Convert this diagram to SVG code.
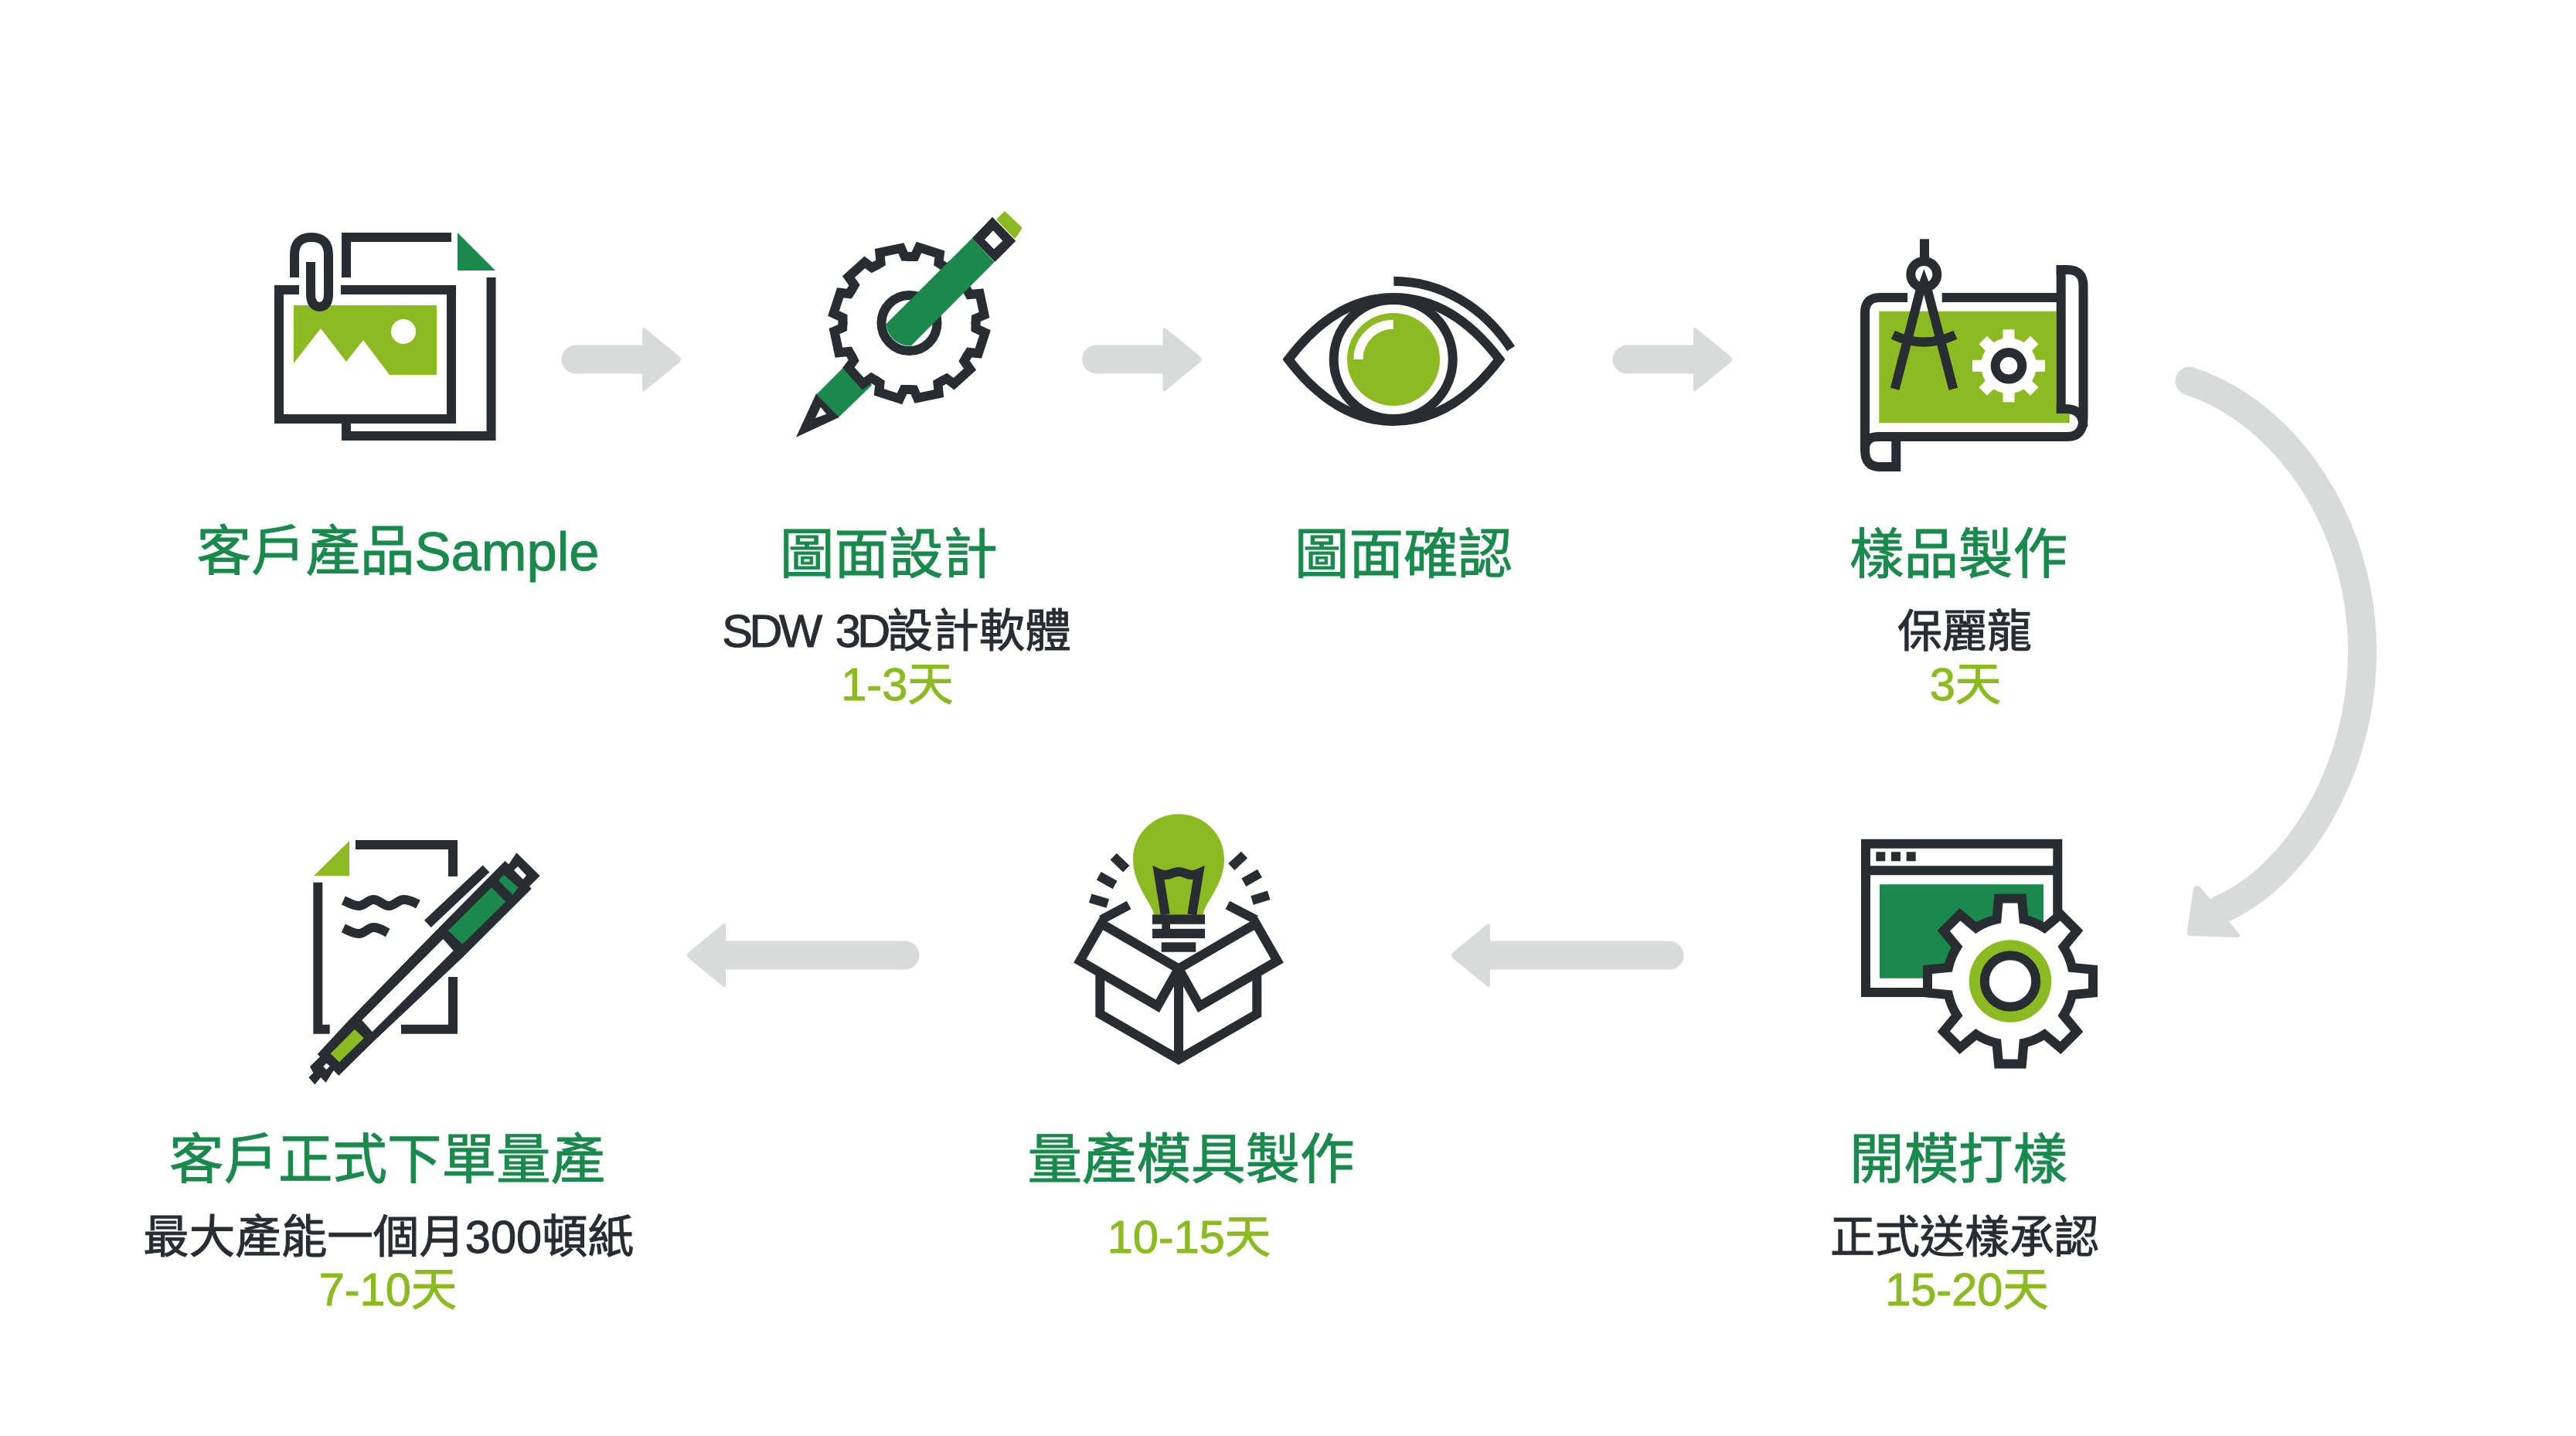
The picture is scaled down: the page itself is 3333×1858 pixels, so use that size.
<svg xmlns="http://www.w3.org/2000/svg" xmlns:xlink="http://www.w3.org/1999/xlink" width="3333" height="1858" viewBox="0 0 3333 1858">
<style>
text{font-family:"Liberation Sans","Noto Sans CJK TC",sans-serif;text-anchor:middle;stroke-width:1}
.h{font-size:70.5px;fill:#198a4c;stroke:#198a4c}
.s{font-size:59.5px;fill:#282d33;stroke:#282d33}
.n{font-size:58px}
.d{font-size:59.5px;fill:#8bbb21;stroke:#8bbb21}
.l{fill:none;stroke:#282d33;stroke-width:12;stroke-miterlimit:10}
.k{fill:#282d33}
.g{fill:#8bbb21}
.e{fill:#198a4c}
.w{fill:#fff}
.a{fill:#d9dbda}
</style>
<defs>
<path id="as" d="M-137,-18.5H-51V-38Q-51,-43 -47,-40L-3,-4Q1,0 -3,4L-47,40Q-51,43 -51,38V18.5H-137A18.5,18.5 0 0 1 -137,-18.5Z"/>
<path id="al" d="M-283,-18.5H-51V-38Q-51,-43 -47,-40L-3,-4Q1,0 -3,4L-47,40Q-51,43 -51,38V18.5H-283A18.5,18.5 0 0 1 -283,-18.5Z"/>
<path id="gt" d="M0,-86H7L12.5,-98L39.3,-89.3L38,-77.7L43,-74.5" fill="none" stroke="#282d33" stroke-width="12" stroke-linecap="round"/>
<rect id="wt" x="-7.5" y="-47" width="15" height="20" fill="#fff"/>
</defs>
<rect width="3333" height="1858" fill="#fff"/>
<g id="connectors">
<use xlink:href="#as" class="a" transform="translate(882 465)"/>
<use xlink:href="#as" class="a" transform="translate(1555.5 465)"/>
<use xlink:href="#as" class="a" transform="translate(2242 465)"/>
<path d="M2833,493C2960,535 3056.5,680 3056.5,842.6C3056.5,1000 2970,1135 2872.7,1177" fill="none" stroke="#d9dbda" stroke-width="37" stroke-linecap="round"/>
<path class="a" d="M2838,1150Q2841,1143 2847,1148L2897,1208Q2900,1213 2893,1213L2835,1211Q2828,1210 2830,1204Z"/>
<use xlink:href="#al" class="a" transform="translate(1877 1236) scale(-1 1)"/>
<use xlink:href="#al" class="a" transform="translate(888 1236) scale(-1 1)"/>
</g>
<g id="node-sample">
<path class="l" d="M584,307H448V359"/>
<path class="l" d="M635.5,359V564H448V547"/>
<path class="e" d="M592,301L641,350H592Z"/>
<path class="g" d="M380,395H565V485H504L470,440L448,468L415,425L380,470Z"/>
<circle class="w" cx="522" cy="429" r="16"/>
<path class="l" d="M387,375H361V542H584V375H441"/>
<path class="l" d="M381,359V330Q381,307 403,307Q425,307 425,330V380Q425,397 413.5,397Q402,397 402,380V339"/>
<text class="h" x="515" y="738">客戶產品Sample</text>
</g>
<g id="node-drawing">
<path class="e" d="M1056.7,510L1096.7,470L1128.3,498.3L1085,540Z"/>
<g transform="translate(1176.5 418)">
<use xlink:href="#gt"/><use xlink:href="#gt" transform="rotate(30)"/><use xlink:href="#gt" transform="rotate(60)"/><use xlink:href="#gt" transform="rotate(90)"/><use xlink:href="#gt" transform="rotate(120)"/><use xlink:href="#gt" transform="rotate(150)"/><use xlink:href="#gt" transform="rotate(180)"/><use xlink:href="#gt" transform="rotate(210)"/><use xlink:href="#gt" transform="rotate(240)"/><use xlink:href="#gt" transform="rotate(270)"/><use xlink:href="#gt" transform="rotate(300)"/><use xlink:href="#gt" transform="rotate(330)"/>
<circle class="l" r="36"/>
</g>
<path class="e" d="M1257.7,308.3L1286.7,339L1179,447.3A30,30 0 0 1 1146.7,419Z"/>
<path class="k" d="M1056,509.3L1085.7,540L1030,565.7Z"/>
<path class="w" d="M1061.7,526.7L1069.3,535.7L1055,541Z"/>
<path class="k" d="M1284,280.7L1314.3,311.7L1287.3,339L1257.7,308.3Z"/>
<path class="w" d="M1285,298.3L1297.3,311.7L1286,322.3L1274,310Z"/>
<path class="g" d="M1300,275L1321,295L1313,307L1291,284Z" stroke="#8bbb21" stroke-width="3" stroke-linejoin="round"/>
<text class="h" x="1150" y="742">圖面設計</text>
<text class="s" x="1160" y="837"><tspan letter-spacing="-4.5" word-spacing="9">SDW 3D</tspan>設計軟體</text>
<text class="d" x="1161" y="906">1-3天</text>
</g>
<g id="node-confirm">
<path class="l" d="M1667,465C1705,415 1750,385 1803,385C1856,385 1902,415 1940,465C1902,515 1856,545 1803,545C1750,545 1705,515 1667,465Z"/>
<circle class="l" cx="1802.7" cy="465" r="77"/>
<circle class="g" cx="1803" cy="465" r="60"/>
<path d="M1802.7,419.7A45.3,45.3 0 0 0 1757.4,465" fill="none" stroke="#fff" stroke-width="12"/>
<path class="l" d="M1803.3,363.7C1866,364 1920,398 1955,451"/>
<text class="h" x="1816" y="742">圖面確認</text>
</g>
<g id="node-sampling">
<path class="g" d="M2431.3,402.7H2660.7V535H2677.7V547.3H2431.3Z"/>
<path class="l" d="M2468,385H2432Q2413,385 2413,405V582Q2413,604 2432,604H2453.3V571"/>
<path class="l" d="M2512.7,385H2666.7"/>
<path class="l" d="M2413,582Q2413,565 2430,565H2675Q2695.5,565 2695.5,541V370Q2695.5,349 2675,349H2660.7"/>
<path class="l" d="M2666.7,343.3V535"/>
<path class="l" d="M2660.7,529H2672Q2695.5,529 2695.5,552"/>
<path class="l" d="M2490,309.3V336.7"/>
<circle class="l" cx="2489.3" cy="355" r="17"/>
<path class="k" d="M2489.3,348L2483,366H2496Z"/>
<path class="l" d="M2486.5,368L2451.7,503.3M2492,368L2527.3,503.3M2449.3,433.3Q2489,452 2530,433.3"/>
<g transform="translate(2599 473.3)">
<circle class="w" r="36"/>
<use xlink:href="#wt"/><use xlink:href="#wt" transform="rotate(45)"/><use xlink:href="#wt" transform="rotate(90)"/><use xlink:href="#wt" transform="rotate(135)"/><use xlink:href="#wt" transform="rotate(180)"/><use xlink:href="#wt" transform="rotate(225)"/><use xlink:href="#wt" transform="rotate(270)"/><use xlink:href="#wt" transform="rotate(315)"/>
<circle class="l" r="17.3"/>
</g>
<text class="h" x="2534" y="742">樣品製作</text>
<text class="s n" x="2542" y="837">保麗龍</text>
<text class="d" x="2543" y="906">3天</text>
</g>
<g id="node-mold">
<path class="e" d="M2432,1144.3H2644V1265.7H2432Z"/>
<path class="l" d="M2520,1284H2414V1091.7H2662.3V1185M2414,1126.3H2662.3"/>
<path class="k" d="M2427.3,1102.3h12v12h-12zM2447,1102.3h12v12h-12zM2466.7,1102.3h12v12h-12z"/>
<g transform="translate(2601 1269.5)">
<path class="l" style="fill:#fff" d="M-17.5,-80L-15,-107H15L17.5,-80A82,82 0 0 1 44.2,-68.94L65.06,-86.27L86.27,-65.05L68.94,-44.2A82,82 0 0 1 80,-17.5L107,-15V15L80,17.5A82,82 0 0 1 68.94,44.2L86.27,65.06L65.05,86.27L44.2,68.94A82,82 0 0 1 17.5,80L15,107H-15L-17.5,80A82,82 0 0 1 -44.2,68.94L-65.06,86.27L-86.27,65.05L-68.94,44.2A82,82 0 0 1 -80,17.5L-107,15V-15L-80,-17.5A82,82 0 0 1 -68.94,-44.2L-86.27,-65.06L-65.05,-86.27L-44.2,-68.94A82,82 0 0 1 -17.5,-80Z"/>
<circle class="g" r="53.3"/>
<circle class="l" style="fill:#fff" r="33.2"/>
</g>
<text class="h" x="2534" y="1525">開模打樣</text>
<text class="s n" x="2542" y="1621">正式送樣承認</text>
<text class="d" x="2545" y="1689">15-20天</text>
</g>
<g id="node-production">
<path class="g" d="M1493.3,1183.3C1490,1168.3 1466,1145 1466,1111.7C1466,1078.3 1493.3,1053.3 1525,1053.3C1556.7,1053.3 1584,1078.3 1584,1111.7C1584,1145 1558.3,1168.3 1556.7,1183.3Z"/>
<path class="l" d="M1507.7,1183.3L1499,1130Q1507.7,1134 1516.3,1130T1533.7,1130T1551,1130L1542.3,1183.3"/>
<path class="k" d="M1491,1183.3H1559V1195.7H1514V1201.7H1559V1214H1491V1201.7H1503.3V1195.7H1491ZM1502.7,1219.3H1547.3V1231.7H1502.7Z"/>
<path class="l" d="M1423.3,1262V1312L1525,1370.7L1626.3,1312V1262M1525,1251.7V1370.7"/>
<path class="l" d="M1425,1195L1525,1253.3L1497.7,1301.7L1397.3,1243.3ZM1625,1195L1525,1253.3L1552.3,1301.7L1652.7,1243.3ZM1425,1190L1460.7,1171M1588.3,1171L1625,1190"/>
<path class="l" d="M1440.7,1108.3L1457.3,1124.3M1421.7,1133.3L1442.7,1145M1410.7,1162.3L1433.3,1169M1610,1106L1593.3,1121.7M1630,1130L1609.3,1141.7M1641.7,1158.3L1620,1165"/>
<text class="h" x="1541" y="1525">量產模具製作</text>
<text class="d" x="1538.5" y="1621">10-15天</text>
</g>
<g id="node-order">
<path class="g" d="M452,1088V1133.3H406Z"/>
<path class="l" d="M460,1093H586V1134M411.3,1141.7V1331.7H426.7M519,1331.7H586V1264"/>
<path class="l" d="M444.3,1165C451,1168 457,1172 464,1172C472,1172 476,1164 483,1164C491,1164 496,1172 503,1172C511,1172 515,1164 522,1164C530,1164 535,1167 541,1170M444.3,1201C451,1204 457,1208 464,1208C472,1208 476,1200 483,1200C491,1200 496,1204 501.7,1207"/>
<g transform="translate(390 1090) scale(.33333)">
<path class="k" d="M28,912L46,895L33,870L72,832L62,822L182,692L520,345L790,72L805,85L835,40L926,130L885,170L893,180L625,447L270,782L145,905L125,885L95,932L75,912L52,940Z"/>
<path class="w" d="M235,690L550,375L590,420L275,735Z"/>
<path class="e" d="M738,175L793,230L625,395L570,342Z"/>
<path class="e" d="M785,125L842,175L820,203L765,148Z"/>
<path class="w" d="M840,93L873,128L860,143L825,108Z"/>
<path class="g" d="M207,725L242,760L147,853L113,820Z"/>
<path class="w" d="M97,857L110,868L97,882L85,870Z"/>
<path d="M490,316L717,102" fill="none" stroke="#282d33" stroke-width="38"/>
</g>
<text class="h" x="501" y="1525">客戶正式下單量產</text>
<text class="s" x="502.7" y="1621">最大產能一個月300頓紙</text>
<text class="d" x="502" y="1689">7-10天</text>
</g>
</svg>
